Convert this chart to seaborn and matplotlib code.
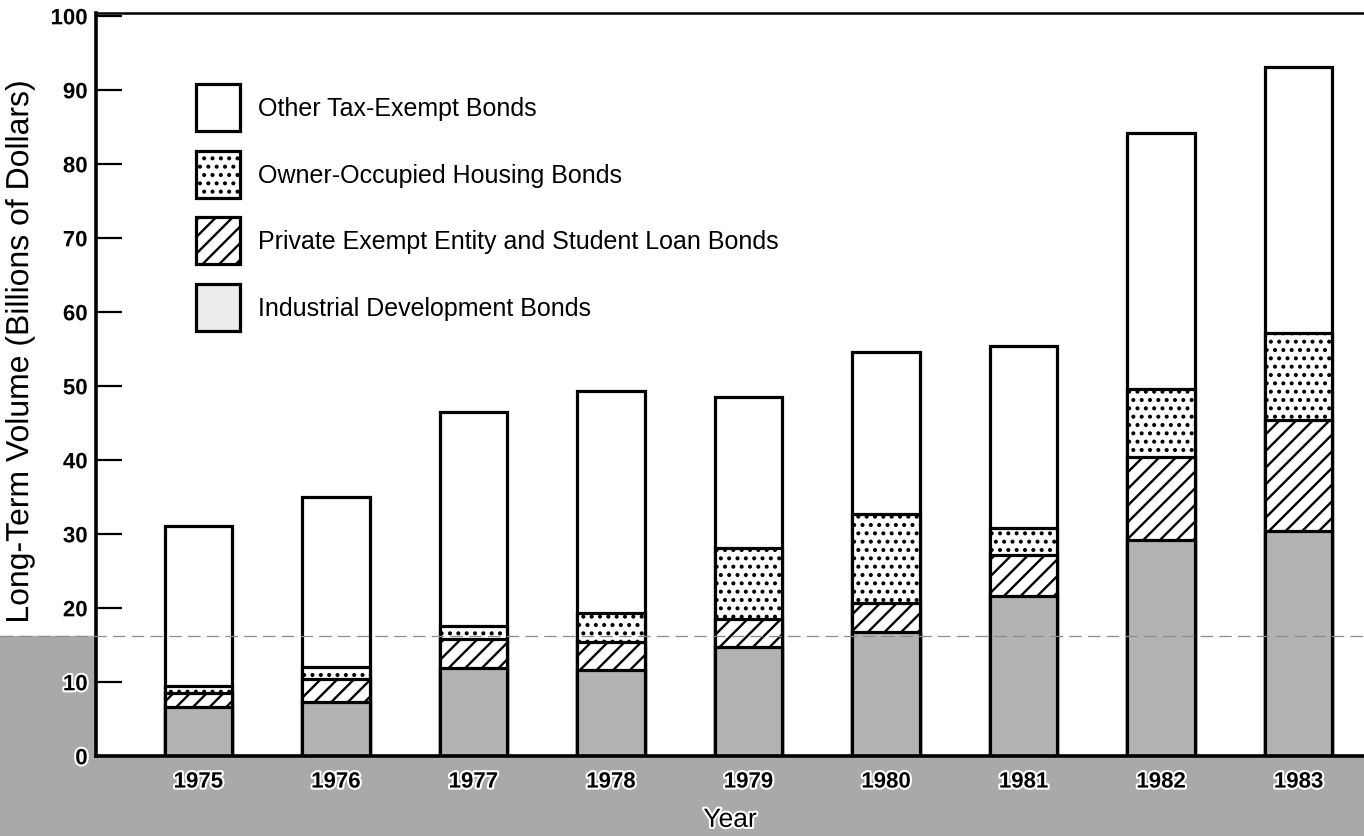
import numpy as np
import pandas as pd
import matplotlib.pyplot as plt
import matplotlib.patheffects as pe
from matplotlib.patches import Patch, Rectangle
from matplotlib.lines import Line2D
import seaborn as sns

# values (billions of dollars)
years          = ["1975", "1976", "1977", "1978", "1979", "1980", "1981", "1982", "1983"]
industrial     = [6.6, 7.4, 11.9, 11.7, 14.8, 16.8, 21.7, 29.2, 30.4]
private_exempt = [2.0, 3.1, 4.0, 3.8, 3.8, 3.9, 5.5, 11.3, 15.0]
housing        = [0.9, 1.6, 1.7, 3.9, 9.6, 12.0, 3.7, 9.1, 11.8]
other          = [21.6, 22.9, 28.9, 29.9, 20.3, 21.9, 24.6, 34.6, 36.0]

legend_labels = [
    "Other Tax-Exempt Bonds",
    "Owner-Occupied Housing Bonds",
    "Private Exempt Entity and Student Loan Bonds",
    "Industrial Development Bonds",
]

sns.set_theme(style="ticks")
plt.rcParams['font.family'] = ['Liberation Sans', 'DejaVu Sans']
plt.rcParams['text.color'] = 'black'
plt.rcParams['axes.labelcolor'] = 'black'
plt.rcParams['xtick.color'] = 'black'
plt.rcParams['ytick.color'] = 'black'
plt.rcParams['hatch.linewidth'] = 1.7

df = pd.DataFrame({
    "year": years,
    "industrial": industrial,
    "private_exempt": private_exempt,
    "housing": housing,
    "other": other,
})
# stacked bars drawn as overlapping cumulative bars
df["cum_private"] = df["industrial"] + df["private_exempt"]
df["cum_housing"] = df["cum_private"] + df["housing"]
df["total"] = df["cum_housing"] + df["other"]

W, H = 1364, 837
FOLD_Y = 1 - 636.7 / H
GRAY_BAR = "#b3b3b3"
EDGE_LW = 2.3

fig = plt.figure(figsize=(W / 100, H / 100), dpi=100)
fig.patch.set_facecolor("white")
# greyish scanned background below the fold
fig.add_artist(Rectangle((0, 0), 1, FOLD_Y, transform=fig.transFigure,
                         color="#a9a9a9", zorder=-1))

ax = fig.add_axes([96 / W, 1 - 757.3 / H, 1268 / W, 743.7 / H])
ax.set_facecolor("white")

layers = [
    ("total", "white", None),
    ("cum_housing", "white", ".."),
    ("cum_private", "white", "//"),
    ("industrial", GRAY_BAR, None),
]
for col, fc, hatch in layers:
    n0 = len(ax.patches)
    sns.barplot(data=df, x="year", y=col, color=fc, saturation=1,
                edgecolor="black", linewidth=EDGE_LW, width=0.49,
                errorbar=None, ax=ax)
    for p in ax.patches[n0:]:
        p.set_hatch(hatch)

ax.set_xlim(-0.745, 8.475)
ax.set_ylim(0, 100.5)
ax.set_yticks(np.arange(0, 101, 10))

ax.tick_params(axis="y", direction="in", length=19, width=1.6, pad=6,
               labelsize=16, left=True)
ax.tick_params(axis="x", length=0, pad=11, labelsize=16, bottom=True)
for t in ax.get_xticklabels() + ax.get_yticklabels():
    t.set_fontweight("bold")

for side in ["left", "bottom"]:
    ax.spines[side].set_linewidth(2.6)
    ax.spines[side].set_color("black")
ax.spines["top"].set_linewidth(1.8)
ax.spines["top"].set_color("black")
ax.spines["right"].set_visible(False)

ax.set_xlabel("Year", fontsize=19, labelpad=11)
ax.set_ylabel("Long-Term Volume (Billions of Dollars)", fontsize=23)
ax.yaxis.set_label_coords(-0.048, 0.545)

halo = [pe.withStroke(linewidth=3, foreground="white")]
for t in ax.get_xticklabels() + ax.get_yticklabels():
    t.set_path_effects(halo)
ax.xaxis.label.set_path_effects(halo)
ax.yaxis.label.set_path_effects(halo)

handles = [
    Patch(facecolor="white", edgecolor="black", linewidth=EDGE_LW),
    Patch(facecolor="white", edgecolor="black", linewidth=EDGE_LW, hatch=".."),
    Patch(facecolor="white", edgecolor="black", linewidth=EDGE_LW, hatch="//"),
    Patch(facecolor="#ececec", edgecolor="black", linewidth=EDGE_LW),
]
ax.legend(handles, legend_labels, loc="upper left",
          bbox_to_anchor=(0.0789, 0.904), frameon=False, fontsize=18,
          handlelength=1.76, handleheight=2.51, labelspacing=0.79,
          handletextpad=0.72, borderpad=0, borderaxespad=0)

# fold line from the scan
fig.add_artist(Line2D([0, 1], [FOLD_Y, FOLD_Y], transform=fig.transFigure,
                      color="#8c8c8c", lw=0.9, ls=(0, (10, 5)), zorder=5))

fig.savefig("out.png", dpi=100)
plt.close(fig)
